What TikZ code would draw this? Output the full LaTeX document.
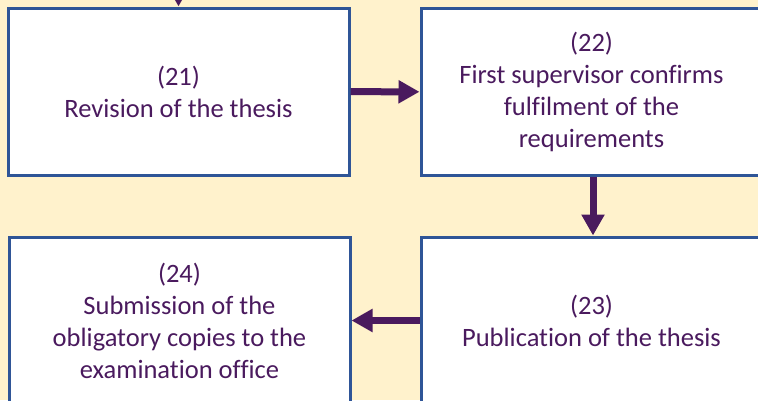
\documentclass[tikz,border=0pt]{standalone}
\usepackage{fontspec}
\setmainfont[Ligatures=NoCommon]{Carlito}
\usepackage{tikz}
\usetikzlibrary{arrows.meta}
\usepackage{xcolor}
\definecolor{cream}{HTML}{FFF2CC}
\definecolor{boxblue}{HTML}{2F5597}
\definecolor{plum}{HTML}{4A1A5E}

\begin{document}
\begin{tikzpicture}[x=1pt,y=-1pt,
		stage/.style={draw=boxblue,line width=3pt,fill=white,
		minimum width=341pt,minimum height=167pt,inner sep=0pt,
		align=center,text=plum,font=\fontsize{26.5}{32}\selectfont},
		flow/.style={plum,line width=7pt,
		-{Triangle[length=21pt,width=22pt]}}]
		\useasboundingbox (0,0) rectangle (758,400);
		\clip (0,0) rectangle (758,400);
		\fill[cream] (0,0) rectangle (758,400);
	
		\node[stage] (s21) at (178.5,91.5) {(21)\\Revision of the thesis};
		\node[stage] (s22) at (591.5,92) {(22)\\First supervisor confirms\\
		fulfilment of the\\requirements};
		\node[stage] (s23) at (591.5,320.5) {(23)\\Publication of the thesis};
		\node[stage] (s24) at (179.5,320.5) {(24)\\Submission of the\\
		obligatory copies to the\\examination office};
	
		\coordinate (s20) at (178.5,-30);
		\draw[flow] (s20) -- (s21);
		\draw[flow] (s21) -- (s22);
		\draw[flow] (s22.south -| 593,0) -- (s23.north -| 593,0);
		\draw[flow] (s23) -- (s24);
	\end{tikzpicture}
\end{document}
